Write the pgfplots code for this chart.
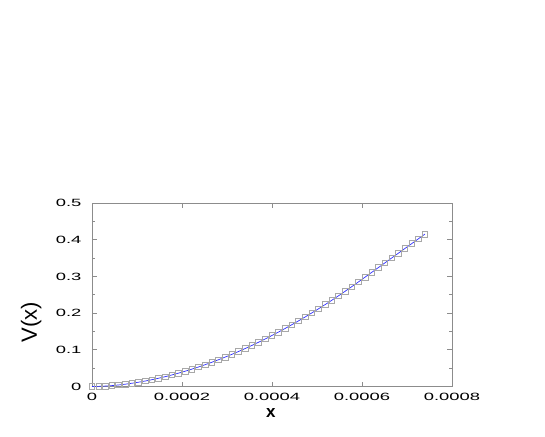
\documentclass[border=0pt]{standalone}
\usepackage{fontspec}
\setmainfont{Liberation Sans}
\usepackage{graphicx}
\usepackage{pgfplots}
\usepackage{pgfplotstable}
\pgfplotsset{compat=1.18}

\definecolor{lineblue}{HTML}{3030FF}
\definecolor{markgray}{HTML}{A8A8A8}
\definecolor{framegray}{HTML}{8C8C8C}

\newcommand\wide[1]{\scalebox{1.75}[1]{#1}}

% V(x) read off the markers
\pgfplotstableread{
x          V
0.0000000  0.00000
0.0000148  0.00033
0.0000296  0.00119
0.0000444  0.00249
0.0000592  0.00422
0.0000740  0.00634
0.0000888  0.00885
0.0001036  0.01174
0.0001184  0.01498
0.0001332  0.01859
0.0001480  0.02254
0.0001628  0.02684
0.0001776  0.03147
0.0001924  0.03643
0.0002072  0.04173
0.0002220  0.04734
0.0002368  0.05327
0.0002516  0.05952
0.0002664  0.06608
0.0002812  0.07296
0.0002960  0.08014
0.0003108  0.08763
0.0003256  0.09542
0.0003404  0.10351
0.0003552  0.11188
0.0003700  0.12056
0.0003848  0.12953
0.0003996  0.13880
0.0004144  0.14834
0.0004292  0.15819
0.0004440  0.16833
0.0004588  0.17874
0.0004736  0.18941
0.0004884  0.20040
0.0005032  0.21162
0.0005180  0.22316
0.0005328  0.23498
0.0005476  0.24706
0.0005624  0.25944
0.0005772  0.27203
0.0005920  0.28493
0.0006068  0.29800
0.0006216  0.31100
0.0006364  0.32410
0.0006512  0.33710
0.0006660  0.35020
0.0006808  0.36320
0.0006956  0.37630
0.0007104  0.38930
0.0007252  0.40240
0.0007400  0.41540
}\potential

\begin{document}
\begin{tikzpicture}
\useasboundingbox (0,0) rectangle (545pt,436pt);
\begin{axis}[
	at={(92pt,49.5pt)}, anchor=south west,
	scale only axis, width=360pt, height=183.5pt,
	xmin=0, xmax=0.0008, ymin=0, ymax=0.5,
	scaled ticks=false,
	xtick={0,0.0002,0.0004,0.0006,0.0008},
	xticklabels={\wide{0},\wide{0.0002},\wide{0.0004},\wide{0.0006},\wide{0.0008}},
	ytick={0,0.1,0.2,0.3,0.4,0.5},
	yticklabels={\wide{0},\wide{0.1},\wide{0.2},\wide{0.3},\wide{0.4},\wide{0.5}},
	minor ytick={0.05,0.15,0.25,0.35,0.45},
	tick align=inside,
	major tick length=5pt, minor tick length=3pt,
	axis line style={framegray, line width=0.8pt},
	every tick/.style={framegray, line width=0.8pt},
	ticklabel style={font=\fontsize{10.5}{12}\selectfont},
	xticklabel style={anchor=north, inner sep=0pt, yshift=-6.5pt},
	yticklabel style={xshift=-7pt},
	xlabel={\fontsize{17}{19}\selectfont\bfseries x},
	ylabel={\fontsize{22}{26}\selectfont V(x)},
	xlabel style={at={(axis description cs:0.497,-0.142)}, anchor=center, inner sep=0pt},
	ylabel style={at={(axis description cs:-0.169,0.35)}, anchor=center},
	clip=false,
]
\addplot[only marks, mark=square, mark size=2.8pt,
	mark options={draw=markgray, fill=white, line width=0.7pt}]
	table[x=x, y=V]{\potential};
\addplot[lineblue, line width=0.7pt, no marks]
	table[x=x, y=V]{\potential};
\end{axis}
\end{tikzpicture}
\end{document}
